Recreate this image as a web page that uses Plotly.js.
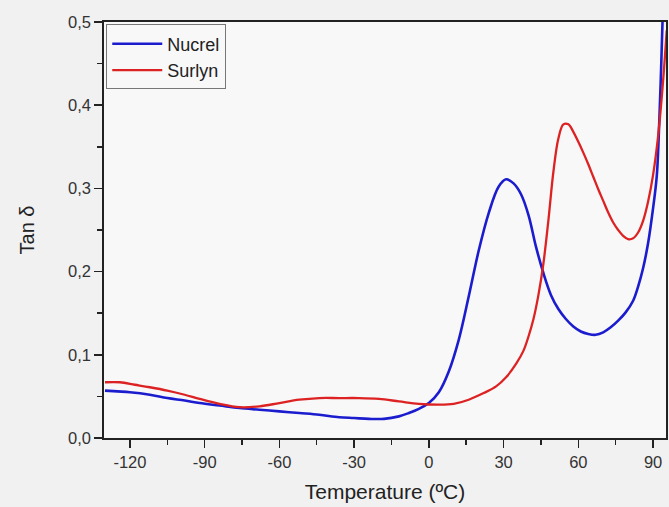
<!DOCTYPE html>
<html>
<head>
<meta charset="utf-8">
<script src="https://cdn.plot.ly/plotly-3.0.1.min.js"></script>
<style>
  html, body { margin: 0; padding: 0; background: #f1f1f1; }
  #chart { width: 669px; height: 507px; }
</style>
</head>
<body>
<div id="chart"></div>
<script>
// Tan delta vs temperature (DMA) for two ionomer films
const nucrelTemp = [-130, -125, -120, -112, -105, -98, -92, -84, -76, -68, -60, -52, -44, -36, -30, -24, -18, -12, -8, -4, 0, 4, 8, 12, 16, 20, 24, 28, 31, 34, 37, 40, 43, 46, 49, 52, 55, 58, 61, 64, 67, 70, 73, 76, 79, 82, 84, 86, 88, 90, 91.5, 92.5, 93.3, 94];
const nucrelTan  = [0.057, 0.056, 0.055, 0.052, 0.048, 0.045, 0.042, 0.039, 0.036, 0.034, 0.032, 0.030, 0.028, 0.025, 0.024, 0.023, 0.023, 0.026, 0.030, 0.035, 0.042, 0.055, 0.080, 0.118, 0.170, 0.225, 0.270, 0.302, 0.311, 0.306, 0.293, 0.268, 0.230, 0.198, 0.172, 0.155, 0.143, 0.134, 0.128, 0.125, 0.124, 0.127, 0.133, 0.141, 0.151, 0.165, 0.182, 0.204, 0.234, 0.276, 0.315, 0.380, 0.450, 0.520];

const surlynTemp = [-130, -124, -118, -112, -105, -98, -92, -84, -76, -68, -60, -52, -44, -36, -28, -20, -12, -4, 4, 10, 16, 22, 27, 31, 35, 38, 40, 42, 44, 46, 48, 50, 52, 54, 56, 58, 60, 62, 64, 66, 68, 70, 72, 74, 76, 78, 80, 82, 84, 86, 88, 90, 92, 94, 95.5];
const surlynTan  = [0.067, 0.067, 0.064, 0.061, 0.057, 0.052, 0.047, 0.041, 0.037, 0.038, 0.042, 0.046, 0.048, 0.048, 0.048, 0.047, 0.044, 0.041, 0.040, 0.041, 0.046, 0.054, 0.062, 0.073, 0.089, 0.105, 0.122, 0.143, 0.172, 0.210, 0.262, 0.320, 0.360, 0.377, 0.377, 0.368, 0.356, 0.343, 0.329, 0.314, 0.299, 0.285, 0.271, 0.259, 0.250, 0.243, 0.239, 0.240, 0.247, 0.261, 0.284, 0.316, 0.362, 0.428, 0.490];

const xTicks = [-120, -90, -60, -30, 0, 30, 60, 90];
const yTicks = [0, 0.1, 0.2, 0.3, 0.4, 0.5];

const traces = [
  {
    x: nucrelTemp, y: nucrelTan, name: 'Nucrel', type: 'scatter', mode: 'lines',
    line: { color: '#1c1ccf', width: 2.6, shape: 'spline', smoothing: 1 }
  },
  {
    x: surlynTemp, y: surlynTan, name: 'Surlyn', type: 'scatter', mode: 'lines',
    line: { color: '#dc2222', width: 2.3, shape: 'spline', smoothing: 1 }
  }
];

const FONT = 'Liberation Sans, Arial, sans-serif';
const axisFont = { family: FONT, size: 16.5, color: '#333' };

const layout = {
  width: 669, height: 507,
  margin: { l: 104, r: 3, t: 22, b: 69 },
  paper_bgcolor: '#f1f1f1',
  plot_bgcolor: '#f8f8f8',
  separators: ',.',
  showlegend: true,
  legend: {
    x: 0.004, y: 0.994, xanchor: 'left', yanchor: 'top',
    bgcolor: '#f8f8f8', bordercolor: '#777', borderwidth: 1,
    font: { family: FONT, size: 18, color: '#222' },
    itemwidth: 50,
    tracegroupgap: 0
  },
  xaxis: {
    range: [-130.4, 95.2],
    tickvals: xTicks, ticktext: xTicks.map(String),
    ticks: 'outside', ticklen: 8, tickwidth: 1.5, tickcolor: '#222',
    minor: { dtick: 15, tick0: -120, ticks: 'outside', ticklen: 5, tickwidth: 1.5, tickcolor: '#222' },
    showline: true, linecolor: '#222', linewidth: 1.8, mirror: true,
    showgrid: false, zeroline: false,
    tickfont: axisFont,
    title: { text: 'Temperature (ºC)', font: { family: FONT, size: 21, color: '#222' }, standoff: 15 }
  },
  yaxis: {
    range: [0, 0.5],
    tickvals: yTicks, tickformat: '.1f',
    ticks: 'outside', ticklen: 8, tickwidth: 1.5, tickcolor: '#222',
    minor: { dtick: 0.05, tick0: 0, ticks: 'outside', ticklen: 5, tickwidth: 1.5, tickcolor: '#222' },
    showline: true, linecolor: '#222', linewidth: 1.8, mirror: true,
    showgrid: false, zeroline: false,
    tickfont: axisFont,
    title: { text: 'Tan δ', font: { family: FONT, size: 20, color: '#222' }, standoff: 28 }
  }
};

Plotly.newPlot('chart', traces, layout, { displayModeBar: false, staticPlot: true });
</script>
</body>
</html>
